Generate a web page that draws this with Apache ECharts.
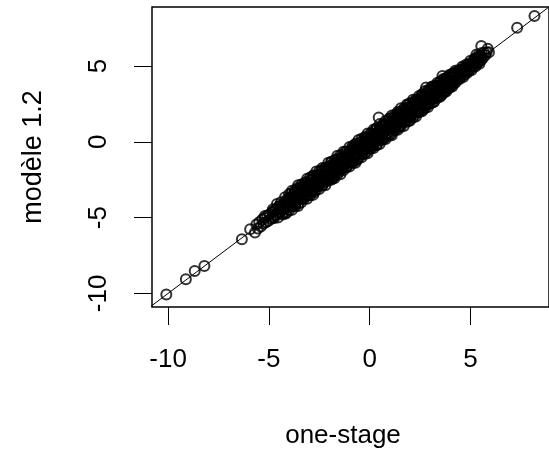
<!DOCTYPE html>
<html>
<head>
<meta charset="utf-8">
<script src="https://cdn.jsdelivr.net/npm/echarts@6/dist/echarts.min.js"></script>
<style>
  html, body { margin: 0; padding: 0; background: #fff; }
  #chart { width: 549px; height: 452px; }
</style>
</head>
<body>
<div id="chart"></div>
<script>
// tick positions
const xTicks = [-10, -5, 0, 5]
const yTicks = [-10, -5, 0, 5]

// y = x reference line (abline 0,1) endpoints
const refLine = [-11, 9]

// [one-stage, modele 1.2] — left end of the cloud
const leftPoints = [
  [-5.62,-5.45],[-5.55,-5.72],[-5.48,-5.3],[-5.4,-5.58],[-5.33,-5.12],[-5.27,-5.4],[-5.2,-5.02],[-5.14,-5.3],
  [-5.08,-4.88],[-5.02,-5.2],[-4.96,-4.78],[-4.9,-5.08],[-4.84,-4.62],[-4.78,-4.95],[-4.72,-4.55],[-4.66,-4.86],
  [-4.6,-4.42],[-4.55,-4.7],[-4.49,-4.3],[-4.43,-4.62],[-4.37,-4.2],[-4.31,-4.5],[-4.25,-4.08],[-4.19,-4.36],
  [-4.13,-3.95],[-4.07,-4.28],[-4.01,-3.82]
]

// negative half of the dense band
const negPoints = [
  [-3.95,-3.65],[-3.9,-4.22],[-3.85,-3.75],[-3.8,-3.95],[-3.75,-3.37],[-3.7,-4.1],[-3.65,-3.6],[-3.6,-3.35],
  [-3.55,-3.83],[-3.5,-3.08],[-3.45,-3.55],[-3.4,-3.22],[-3.35,-3.73],[-3.3,-2.98],[-3.25,-3.45],[-3.2,-3.12],
  [-3.15,-3.59],[-3.1,-2.7],[-3.05,-3.1],[-3.0,-2.78],[-2.95,-3.25],[-2.9,-2.78],[-2.85,-3.27],[-2.8,-2.44],
  [-2.75,-2.91],[-2.7,-2.68],[-2.65,-2.21],[-2.6,-2.94],[-2.55,-2.39],[-2.5,-2.74],[-2.45,-2.15],[-2.4,-2.48],
  [-2.35,-1.95],[-2.3,-2.7],[-2.25,-2.19],[-2.2,-2.46],[-2.15,-1.89],[-2.1,-2.24],[-2.05,-1.67],[-2.0,-2.36],
  [-1.95,-1.81],[-1.9,-2.12],[-1.85,-1.51],[-1.8,-2.24],[-1.75,-1.71],[-1.7,-1.46],[-1.65,-1.95],[-1.6,-1.18],
  [-1.55,-1.67],[-1.5,-1.32],[-1.45,-1.83],[-1.4,-1.1],[-1.35,-1.55],[-1.3,-1.2],[-1.25,-1.67],[-1.2,-0.82],
  [-1.15,-1.19],[-1.1,-0.88],[-1.05,-1.37],[-1.0,-0.92],[-0.95,-1.35],[-0.9,-0.56],[-0.85,-1.01],[-0.8,-0.78],
  [-0.75,-0.31],[-0.7,-0.98],[-0.65,-0.49],[-0.6,-0.82],[-0.55,-0.27],[-0.5,-0.56],[-0.45,-0.05],[-0.4,-0.82],
  [-0.35,-0.27],[-0.3,-0.54],[-0.25,0.01],[-0.2,-0.32],[-0.15,0.21],[-0.1,-0.46],[-0.05,0.07]
]

// positive half of the dense band
const posPoints = [
  [0.0,-0.2],[0.05,0.37],[0.1,-0.3],[0.15,0.21],[0.2,0.44],[0.25,-0.05],[0.3,0.72],[0.35,0.25],
  [0.4,0.58],[0.45,0.07],[0.5,0.8],[0.55,0.37],[0.6,0.7],[0.65,0.21],[0.7,1.08],[0.75,0.69],
  [0.8,1.02],[0.85,0.53],[0.9,0.94],[0.95,0.55],[1.0,1.34],[1.05,0.91],[1.1,1.12],[1.15,1.55],
  [1.2,0.92],[1.25,1.41],[1.3,1.08],[1.35,1.63],[1.4,1.32],[1.45,1.85],[1.5,1.08],[1.55,1.63],
  [1.6,1.34],[1.65,1.91],[1.7,1.58],[1.75,2.11],[1.8,1.44],[1.85,1.97],[1.9,1.7],[1.95,2.27],
  [2.0,1.6],[2.05,2.11],[2.1,2.34],[2.15,1.85],[2.2,2.62],[2.25,2.15],[2.3,2.48],[2.35,1.97],
  [2.4,2.7],[2.45,2.27],[2.5,2.6],[2.55,2.11],[2.6,2.98],[2.65,2.59],[2.7,2.92],[2.75,2.43],
  [2.8,2.84],[2.85,2.45],[2.9,3.24],[2.95,2.81],[3.0,3.02],[3.05,3.45],[3.1,2.82],[3.15,3.31],
  [3.2,2.98],[3.25,3.53],[3.3,3.22],[3.35,3.71],[3.4,3.02],[3.45,3.53],[3.5,3.24],[3.55,3.79],
  [3.6,3.48],[3.65,3.95],[3.7,3.36],[3.75,3.87],[3.8,3.6],[3.85,4.13],[3.9,3.54],[3.95,3.99]
]

// right end of the cloud
const rightPoints = [
  [4.0,3.76],[4.06,4.28],[4.12,4.02],[4.18,4.48],[4.24,3.94],[4.3,4.38],[4.36,4.18],[4.42,4.68],
  [4.48,4.22],[4.54,4.68],[4.6,4.54],[4.66,4.9],[4.72,4.44],[4.78,4.82],[4.84,4.68],[4.9,5.12],
  [4.96,4.74],[5.02,5.14],[5.08,4.98],[5.14,5.34],[5.2,5.02],[5.26,5.36],[5.32,5.26],[5.38,5.56],
  [5.44,5.3],[5.5,5.56],[5.56,5.86],[5.62,5.54],[5.68,5.88],[5.74,5.72],[5.8,5.92],[5.86,6.14],[5.92,5.92]
]

// points sitting right on the diagonal
const corePoints = [
  [-4.5,-4.48],[-4.25,-4.27],[-4.0,-4.03],[-3.75,-3.72],[-3.5,-3.53],[-3.25,-3.22],[-3.0,-3.04],[-2.75,-2.72],
  [-2.5,-2.53],[-2.25,-2.22],[-2.0,-2.04],[-1.75,-1.72],[-1.5,-1.53],[-1.25,-1.22],[-1.0,-1.04],[-0.75,-0.72],
  [-0.5,-0.53],[-0.25,-0.22],[0.0,-0.03],[0.25,0.28],[0.5,0.47],[0.75,0.78],[1.0,0.97],[1.25,1.28],
  [1.5,1.47],[1.75,1.78],[2.0,1.97],[2.25,2.28],[2.5,2.47],[2.75,2.78],[3.0,2.97],[3.25,3.28],
  [3.5,3.47],[3.75,3.78],[4.0,3.97],[4.25,4.28],[4.5,4.47],[4.75,4.78],[5.0,4.97]
]

// points above the diagonal
const upperBand = [
  [-4.8,-4.45],[-4.7,-4.52],[-4.6,-4.1],[-4.5,-4.23],[-4.4,-3.98],[-4.3,-4.18],[-4.2,-3.65],[-4.1,-3.79],
  [-4.0,-3.78],[-3.9,-3.43],[-3.8,-3.65],[-3.7,-3.32],[-3.6,-3.08],[-3.5,-3.25],[-3.4,-2.96],[-3.3,-3.2],
  [-3.2,-2.87],[-3.1,-2.61],[-3.0,-2.8],[-2.9,-2.5],[-2.8,-2.22],[-2.7,-2.54],[-2.6,-2.24],[-2.5,-2.21],
  [-2.4,-1.87],[-2.3,-2.17],[-2.2,-1.75],[-2.1,-1.86],[-2.0,-1.61],[-1.9,-1.34],[-1.8,-1.61],[-1.7,-1.36],
  [-1.6,-1.12],[-1.5,-1.39],[-1.4,-0.99],[-1.3,-1.04],[-1.2,-0.66],[-1.1,-0.93],[-1.0,-0.63],[-0.9,-0.44],
  [-0.8,-0.59],[-0.7,-0.13],[-0.6,-0.3],[-0.5,-0.36],[-0.4,0.03],[-0.3,-0.07],[-0.2,0.31],[-0.1,0.22],
  [0.0,0.16],[0.1,0.55],[0.2,0.48],[0.3,0.83],[0.4,0.52],[0.5,0.89],[0.6,0.82],[0.7,1.18],
  [0.8,1.14],[0.9,1.05],[1.0,1.56],[1.1,1.36],[1.2,1.61],[1.3,1.49],[1.4,1.9],[1.5,1.8],
  [1.6,1.73],[1.7,2.14],[1.8,2.04],[1.9,2.45],[2.0,2.35],[2.1,2.28],[2.2,2.67],[2.3,2.57],
  [2.4,2.8],[2.5,2.61],[2.6,3.12],[2.7,3.03],[2.8,3.0],[2.9,3.36],[3.0,3.29],[3.1,3.64],
  [3.2,3.34],[3.3,3.68],[3.4,3.65],[3.5,3.99],[3.6,3.77],[3.7,4.12],[3.8,4.11],[3.9,4.02],
  [4.0,4.4],[4.1,4.32],[4.2,4.56],[4.3,4.45],[4.4,4.73],[4.5,4.74],[4.6,4.98],[4.7,4.83],
  [4.8,5.1],[4.9,5.1],[5.0,5.35],[5.1,5.22],[5.2,5.48],[5.3,5.48],[5.4,5.72],[5.5,5.65]
]

// points below the diagonal
const lowerBand = [
  [-4.75,-5.05],[-4.65,-4.8],[-4.55,-5.0],[-4.45,-4.67],[-4.35,-4.73],[-4.25,-4.37],[-4.15,-4.65],[-4.05,-4.33],
  [-3.95,-4.13],[-3.85,-4.29],[-3.75,-3.89],[-3.65,-4.01],[-3.55,-4.09],[-3.45,-3.69],[-3.35,-3.77],[-3.25,-3.36],
  [-3.15,-3.47],[-3.05,-3.53],[-2.95,-3.14],[-2.85,-3.25],[-2.75,-3.32],[-2.65,-2.81],[-2.55,-2.9],[-2.45,-2.72],
  [-2.35,-2.87],[-2.25,-2.38],[-2.15,-2.6],[-2.05,-2.28],[-1.95,-2.33],[-1.85,-2.4],[-1.75,-1.93],[-1.65,-1.98],
  [-1.55,-2.02],[-1.45,-1.57],[-1.35,-1.76],[-1.25,-1.5],[-1.15,-1.68],[-1.05,-1.22],[-0.95,-1.32],[-0.85,-1.31],
  [-0.75,-0.95],[-0.65,-1.21],[-0.55,-0.84],[-0.45,-0.59],[-0.35,-0.78],[-0.25,-0.47],[-0.15,-0.65],[-0.05,-0.36],
  [0.05,-0.11],[0.15,-0.29],[0.25,-0.02],[0.35,-0.17],[0.45,0.32],[0.55,0.17],[0.65,0.44],[0.75,0.28],
  [0.85,0.52],[0.95,0.8],[1.05,0.5],[1.15,0.9],[1.25,0.85],[1.35,1.16],[1.45,0.96],[1.55,1.25],
  [1.65,1.53],[1.75,1.32],[1.85,1.61],[1.95,1.41],[2.05,1.71],[2.15,1.98],[2.25,1.79],[2.35,2.09],
  [2.45,2.06],[2.55,2.44],[2.65,2.14],[2.75,2.43],[2.85,2.65],[2.95,2.5],[3.05,2.77],[3.15,2.62],
  [3.25,3.11],[3.35,2.98],[3.45,3.21],[3.55,3.07],[3.65,3.49],[3.75,3.34],[3.85,3.55],[3.95,3.83],
  [4.05,3.67],[4.15,3.94],[4.25,3.9],[4.35,4.21],[4.45,4.13],[4.55,4.32],[4.65,4.28],[4.75,4.63],
  [4.85,4.56],[4.95,4.76],[5.05,4.72],[5.15,5.04],[5.25,4.98],[5.35,5.18],[5.45,5.15],[5.55,5.41]
]

// outer edge of the band, above
const upperEdge = [
  [-4.0,-3.45],[-3.85,-3.23],[-3.7,-3.2],[-3.55,-2.87],[-3.4,-2.82],[-3.25,-2.73],[-3.1,-2.44],[-2.95,-2.35],
  [-2.8,-2.26],[-2.65,-1.95],[-2.5,-1.93],[-2.35,-1.72],[-2.2,-1.69],[-2.05,-1.38],[-1.9,-1.31],[-1.75,-1.22],
  [-1.6,-0.91],[-1.45,-0.89],[-1.3,-0.66],[-1.15,-0.65],[-1.0,-0.34],[-0.85,-0.27],[-0.7,-0.17],[-0.55,0.13],
  [-0.4,0.2],[-0.25,0.3],[-0.1,0.55],[0.05,0.57],[0.2,0.82],[0.35,0.92],[0.5,1.17],[0.65,1.15],
  [0.8,1.4],[0.95,1.5],[1.1,1.74],[1.25,1.77],[1.4,1.98],[1.55,2.21],[1.7,2.2],[1.85,2.46],
  [2.0,2.54],[2.15,2.78],[2.3,2.8],[2.45,3.02],[2.6,3.12],[2.75,3.35],[2.9,3.4],[3.05,3.6],
  [3.2,3.68],[3.35,3.88],[3.5,3.95],[3.65,4.15],[3.8,4.22],[3.95,4.42],[4.1,4.5],[4.25,4.69]
]

// outer edge of the band, below
const lowerEdge = [
  [-4.3,-4.8],[-4.15,-4.73],[-4.0,-4.52],[-3.85,-4.49],[-3.7,-4.25],[-3.55,-4.23],[-3.4,-4.0],[-3.25,-3.78],
  [-3.1,-3.76],[-2.95,-3.52],[-2.8,-3.5],[-2.65,-3.17],[-2.5,-3.12],[-2.35,-2.9],[-2.2,-2.87],[-2.05,-2.55],
  [-1.9,-2.5],[-1.75,-2.4],[-1.6,-2.14],[-1.45,-2.14],[-1.3,-1.87],[-1.15,-1.66],[-1.0,-1.63],[-0.85,-1.41],
  [-0.7,-1.38],[-0.55,-1.07],[-0.4,-1.01],[-0.25,-0.8],[-0.1,-0.76],[0.05,-0.45],[0.2,-0.4],[0.35,-0.22],
  [0.5,-0.14],[0.65,0.13],[0.8,0.18],[0.95,0.4],[1.1,0.43],[1.25,0.75],[1.4,0.8],[1.55,0.99],
  [1.7,1.05],[1.85,1.33],[2.0,1.4],[2.15,1.6],[2.3,1.67],[2.45,1.95],[2.6,2.02],[2.75,2.23],
  [2.9,2.3],[3.05,2.57],[3.2,2.65],[3.35,2.89],[3.5,2.98],[3.65,3.21],[3.8,3.32],[3.95,3.55],[4.1,3.65]
]

// isolated points
const tailPoints = [
  [8.18,8.3],[7.32,7.53],[5.54,6.32],[5.3,5.77],[3.61,4.34],[2.8,3.58],[0.45,1.6],[-0.6,-1.15],
  [-1.81,-2.36],[-5.2,-4.9],[-5.69,-5.99],[-5.93,-5.77],[-6.34,-6.43],[-8.2,-8.19],[-8.68,-8.52],
  [-9.12,-9.07],[-10.09,-10.08]
]

const FONT = "'Liberation Sans', Arial, sans-serif"

const chart = echarts.init(document.getElementById('chart'), null, { renderer: 'canvas' })

chart.setOption({
  animation: false,
  backgroundColor: '#fff',
  title: {
    text: 'one-stage',
    left: 338,
    top: 418,
    textAlign: 'center',
    textStyle: { fontFamily: FONT, fontSize: 26, fontWeight: 'normal', color: '#000' },
  },
  grid: {
    left: 152,
    top: 7,
    width: 406,
    height: 300,
    show: true,
    borderColor: '#000',
    borderWidth: 1.5,
    backgroundColor: 'transparent',
  },
  xAxis: {
    type: 'value',
    min: -10.8,
    max: 8.9,
    axisLine: { show: false, onZero: false },
    splitLine: { show: false },
    axisTick: { show: true, length: 18, customValues: xTicks, lineStyle: { color: '#000', width: 1 } },
    axisLabel: { customValues: xTicks, margin: 40, fontFamily: FONT, fontSize: 26, color: '#000' },
  },
  yAxis: {
    type: 'value',
    min: -10.9,
    max: 8.9,
    name: 'modèle 1.2',
    nameLocation: 'middle',
    nameRotate: 90,
    nameGap: 105,
    nameTextStyle: { fontFamily: FONT, fontSize: 27, color: '#000' },
    axisLine: { show: false, onZero: false },
    splitLine: { show: false },
    axisTick: { show: true, length: 18, customValues: yTicks, lineStyle: { color: '#000', width: 1 } },
    axisLabel: {
      customValues: yTicks,
      rotate: 90,
      align: 'center',
      verticalAlign: 'bottom',
      margin: 40,
      fontFamily: FONT,
      fontSize: 26,
      color: '#000',
    },
  },
  series: [
    {
      type: 'line',
      data: [[refLine[0], refLine[0]], [refLine[1], refLine[1]]],
      symbol: 'none',
      clip: true,
      lineStyle: { color: '#000', width: 1 },
      silent: true,
    },
    {
      type: 'scatter',
      data: [].concat(leftPoints, negPoints, corePoints, upperBand, lowerBand, upperEdge, lowerEdge,
        posPoints, rightPoints, tailPoints),
      symbol: 'circle',
      symbolSize: 10,
      clip: true,
      itemStyle: { color: 'rgba(0,0,0,0)', borderColor: '#000', borderWidth: 2 },
    },
  ],
})
</script>
</body>
</html>
